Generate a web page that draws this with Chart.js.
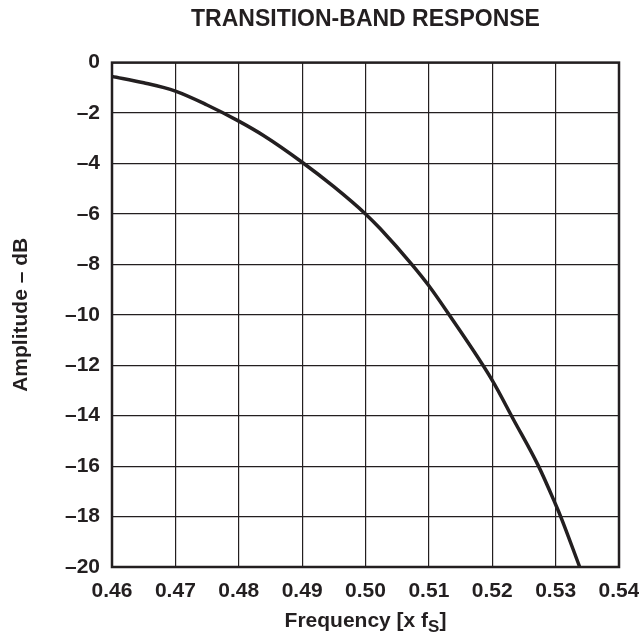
<!DOCTYPE html>
<html>
<head>
<meta charset="utf-8">
<script src="https://cdn.jsdelivr.net/npm/chart.js@4"></script>
<style>
  html, body { margin: 0; padding: 0; background: #fff; }
  #wrap { width: 639px; height: 637px; }
</style>
</head>
<body>
<div id="wrap"><canvas id="bandChart"></canvas></div>
<script>
// values
const frequency = [0.460, 0.465, 0.470, 0.475, 0.480, 0.4839, 0.490, 0.495, 0.500, 0.5023,
  0.5073, 0.510, 0.5132, 0.520, 0.5233, 0.5273, 0.530, 0.5308, 0.5338];
const amplitude = [-0.55, -0.8, -1.13, -1.68, -2.32, -2.89, -3.95, -4.92, -6.0, -6.58,
  -8.0, -8.85, -10.0, -12.6, -14.13, -16.0, -17.52, -18.0, -20.0];
const xTicks = [0.46, 0.47, 0.48, 0.49, 0.50, 0.51, 0.52, 0.53, 0.54];
const yTicks = [0, -2, -4, -6, -8, -10, -12, -14, -16, -18, -20];

const ink = "#231f20";
const fontFamily = "'Liberation Sans', Arial, sans-serif";

// frame around the plot + x title with subscript S
const framePlugin = {
  id: "frame",
  afterDraw(chart) {
    const { ctx, chartArea: a } = chart;
    ctx.save();
    ctx.strokeStyle = ink;
    ctx.lineWidth = 2.5;
    ctx.strokeRect(a.left, a.top, a.right - a.left, a.bottom - a.top);

    // "Frequency [x fS]"
    ctx.fillStyle = ink;
    ctx.textBaseline = "alphabetic";
    ctx.textAlign = "left";
    const main = "Frequency [x f";
    ctx.font = "bold 21px " + fontFamily;
    const w1 = ctx.measureText(main).width;
    const w3 = ctx.measureText("]").width;
    ctx.font = "bold 17px " + fontFamily;
    const w2 = ctx.measureText("S").width;
    let x = (a.left + a.right) / 2 - (w1 + w2 + w3) / 2;
    const base = 627;
    ctx.font = "bold 21px " + fontFamily;
    ctx.fillText(main, x, base);
    x += w1;
    ctx.font = "bold 17px " + fontFamily;
    ctx.fillText("S", x, base + 5);
    x += w2;
    ctx.font = "bold 21px " + fontFamily;
    ctx.fillText("]", x, base);
    ctx.restore();
  }
};

new Chart(document.getElementById("bandChart").getContext("2d"), {
  type: "line",
  data: {
    datasets: [{
      data: frequency.map((f, i) => ({ x: f, y: amplitude[i] })),
      borderColor: ink,
      borderWidth: 3.5,
      pointRadius: 0,
      cubicInterpolationMode: "monotone",
      fill: false
    }]
  },
  options: {
    responsive: true,
    maintainAspectRatio: false,
    animation: false,
    layout: { padding: { left: 0, right: 20, top: 0, bottom: 0 } },
    plugins: {
      legend: { display: false },
      tooltip: { enabled: false },
      title: {
        display: true,
        fullSize: false,
        text: "TRANSITION-BAND RESPONSE",
        color: ink,
        font: { family: fontFamily, size: 23, weight: "bold" },
        padding: { top: 6, bottom: 29 }
      }
    },
    scales: {
      x: {
        type: "linear",
        min: xTicks[0],
        max: xTicks[xTicks.length - 1],
        afterBuildTicks: (s) => { s.ticks = xTicks.map(v => ({ value: v })); },
        afterFit: (s) => { s.height = 70; s.paddingLeft = 0; s.paddingRight = 0; },
        grid: { color: ink, lineWidth: 1.2, drawTicks: false },
        border: { display: false },
        ticks: {
          color: ink,
          padding: 12,
          maxRotation: 0,
          font: { family: fontFamily, size: 21, weight: "bold" },
          callback: (v) => v.toFixed(2)
        }
      },
      y: {
        min: yTicks[yTicks.length - 1],
        max: yTicks[0],
        afterBuildTicks: (s) => { s.ticks = yTicks.map(v => ({ value: v })); },
        afterFit: (s) => { s.width = 112; s.paddingTop = 0; s.paddingBottom = 0; },
        grid: { color: ink, lineWidth: 1.2, drawTicks: false },
        border: { display: false },
        title: {
          display: true,
          text: "Amplitude \u2013 dB",
          color: ink,
          font: { family: fontFamily, size: 21, weight: "bold" },
          padding: { top: 9, bottom: 4 }
        },
        ticks: {
          color: ink,
          padding: 12,
          font: { family: fontFamily, size: 21, weight: "bold" },
          callback: (v) => v === 0 ? "0" : "\u2013" + Math.abs(v)
        }
      }
    }
  },
  plugins: [framePlugin]
});
</script>
</body>
</html>
